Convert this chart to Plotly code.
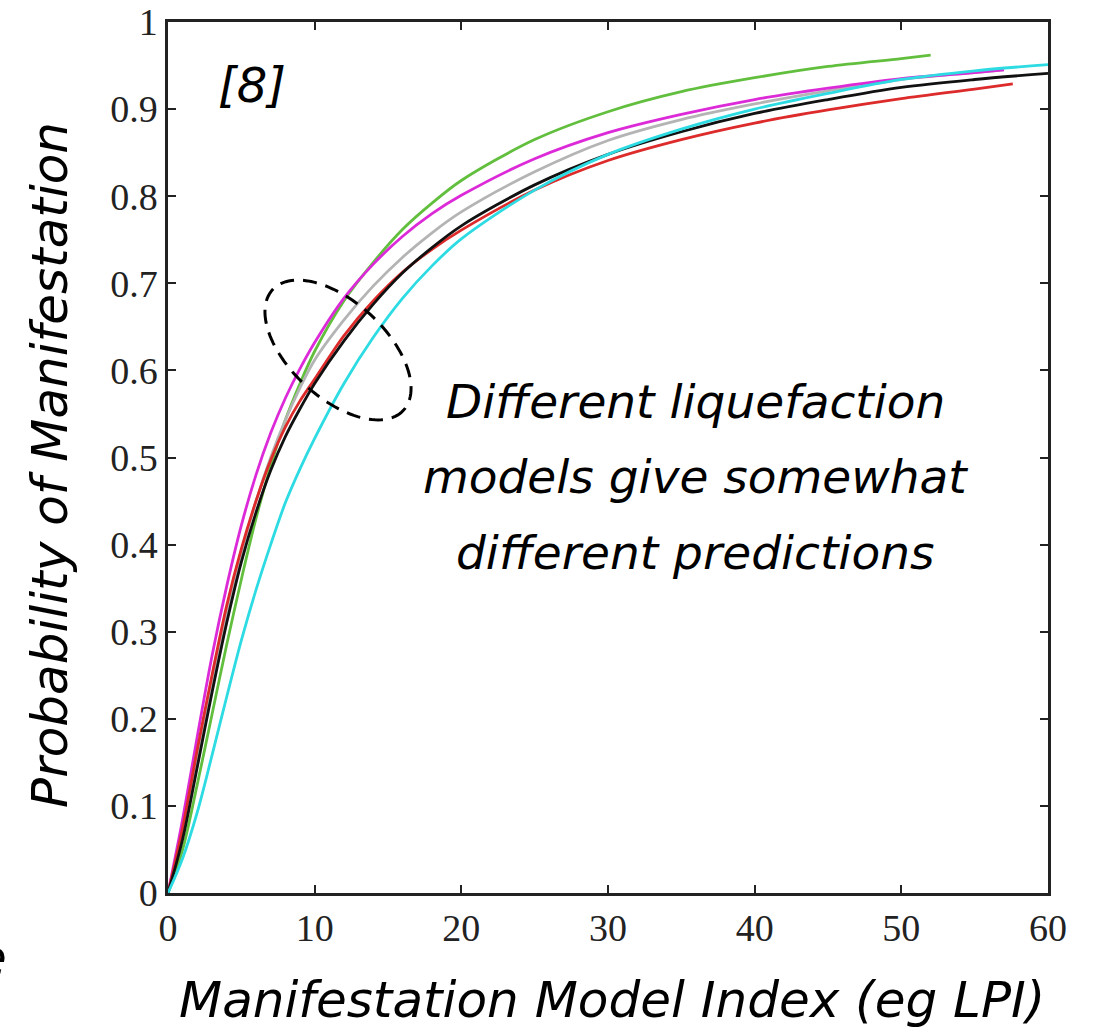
import math
import plotly.graph_objects as go

# Probability of manifestation curves for several liquefaction manifestation models
x_magenta = [0, 1, 2, 3, 4, 5, 6, 7, 8, 9, 10, 12, 14, 16, 18, 20, 25, 30, 35, 40, 45, 50, 55, 57]
y_magenta = [0, 0.085, 0.18, 0.272, 0.352, 0.422, 0.48, 0.528, 0.568, 0.602, 0.632, 0.683, 0.722,
             0.754, 0.780, 0.801, 0.843, 0.873, 0.894, 0.911, 0.924, 0.935, 0.942, 0.945]

x_grey = [0, 1, 2, 3, 4, 5, 6, 7, 8, 9, 10, 12, 14, 16, 18, 20, 25, 30, 35, 40, 45, 50, 55, 57]
y_grey = [0, 0.07, 0.155, 0.24, 0.32, 0.39, 0.45, 0.50, 0.543, 0.58, 0.612, 0.658, 0.697, 0.73,
          0.758, 0.782, 0.828, 0.864, 0.888, 0.906, 0.921, 0.934, 0.942, 0.945]

x_red = [0, 1, 2, 3, 4, 5, 6, 7, 8, 9, 10, 12, 14, 16, 18, 20, 25, 30, 35, 40, 45, 50, 55, 57.6]
y_red = [0, 0.075, 0.165, 0.25, 0.33, 0.395, 0.45, 0.497, 0.535, 0.565, 0.59, 0.64, 0.68, 0.713,
         0.739, 0.761, 0.807, 0.841, 0.865, 0.884, 0.899, 0.912, 0.923, 0.929]

x_black = [0, 1, 2, 3, 4, 5, 6, 7, 8, 9, 10, 12, 14, 16, 18, 20, 25, 30, 35, 40, 45, 50, 55, 60]
y_black = [0, 0.062, 0.145, 0.23, 0.31, 0.38, 0.437, 0.485, 0.524, 0.556, 0.585, 0.634, 0.676,
           0.712, 0.741, 0.766, 0.813, 0.848, 0.874, 0.895, 0.911, 0.925, 0.934, 0.941]

x_green = [0, 1, 2, 3, 4, 5, 6, 7, 8, 9, 10, 12, 14, 16, 18, 20, 25, 30, 35, 40, 45, 50, 52]
y_green = [0, 0.05, 0.125, 0.205, 0.285, 0.36, 0.43, 0.49, 0.543, 0.585, 0.622, 0.68, 0.724,
           0.762, 0.792, 0.818, 0.865, 0.897, 0.92, 0.936, 0.949, 0.958, 0.962]

x_cyan = [0, 1, 2, 3, 4, 5, 6, 7, 8, 9, 10, 12, 14, 16, 18, 20, 25, 30, 35, 40, 45, 50, 55, 60]
y_cyan = [0, 0.04, 0.093, 0.158, 0.225, 0.29, 0.348, 0.40, 0.448, 0.487, 0.522, 0.585, 0.638,
          0.683, 0.72, 0.751, 0.807, 0.848, 0.877, 0.9, 0.918, 0.934, 0.944, 0.951]

x_ticks = [0, 10, 20, 30, 40, 50, 60]
y_ticks = [0, 0.1, 0.2, 0.3, 0.4, 0.5, 0.6, 0.7, 0.8, 0.9, 1]
y_tick_text = ["0", "0.1", "0.2", "0.3", "0.4", "0.5", "0.6", "0.7", "0.8", "0.9", "1"]

note_lines = ["Different liquefaction", "models give somewhat", "different predictions"]

series = [
    (x_green, y_green, "#62bf3e"),
    (x_grey, y_grey, "#b4b4b4"),
    (x_magenta, y_magenta, "#dc2ad8"),
    (x_red, y_red, "#dd2a2a"),
    (x_black, y_black, "#111111"),
    (x_cyan, y_cyan, "#2ddbe3"),
]

W, H = 1100, 1036
ML, MR, MT, MB = 168, 52, 22, 143
PW, PH = W - ML - MR, H - MT - MB

fig = go.Figure()
for xs, ys, col in series:
    fig.add_trace(go.Scatter(x=xs, y=ys, mode="lines",
                             line=dict(color=col, width=2.8, shape="spline", smoothing=0.9),
                             showlegend=False, hoverinfo="skip"))

# dashed ellipse highlighting the spread between models (paper coordinates)
cx_px, cy_px, a_px, b_px, ang = 338, 350, 89, 48, math.radians(42.7)
pts = []
for i in range(121):
    t = 2 * math.pi * i / 120
    px = cx_px + a_px * math.cos(t) * math.cos(ang) - b_px * math.sin(t) * math.sin(ang)
    py = cy_px + a_px * math.cos(t) * math.sin(ang) + b_px * math.sin(t) * math.cos(ang)
    pts.append(((px - ML) / PW, (MT + PH - py) / PH))
path = "M " + " L ".join(f"{u:.5f},{v:.5f}" for u, v in pts) + " Z"
fig.add_shape(type="path", path=path, xref="paper", yref="paper",
              line=dict(color="black", width=3, dash="14px,9px"))

title_font = dict(family="DejaVu Sans", size=50, color="black", style="italic")
note_font = dict(family="DejaVu Sans", size=47, color="black", style="italic")

ann = []
for i, line in enumerate(note_lines):
    ann.append(dict(text=line, x=(695 - ML) / PW, y=(MT + PH - (402 + 75 * i)) / PH,
                    xref="paper", yref="paper", xanchor="center", yanchor="middle",
                    showarrow=False, font=note_font))
ann.append(dict(text="[8]", x=(252 - ML) / PW, y=(MT + PH - 85) / PH,
                xref="paper", yref="paper", xanchor="center", yanchor="middle",
                showarrow=False, font=dict(family="DejaVu Sans", size=48, color="black", style="italic")))
ann.append(dict(text="Manifestation Model Index (eg LPI)", x=(612 - ML) / PW, y=(MT + PH - 1000) / PH,
                xref="paper", yref="paper", xanchor="center", yanchor="middle",
                showarrow=False, font=title_font))
ann.append(dict(text="Probability of Manifestation", x=(50 - ML) / PW, y=(MT + PH - 465) / PH,
                xref="paper", yref="paper", xanchor="center", yanchor="middle", textangle=-90,
                showarrow=False, font=title_font))
ann.append(dict(text="e", x=(9 - ML) / PW, y=(MT + PH - 958) / PH,
                xref="paper", yref="paper", xanchor="right", yanchor="middle",
                showarrow=False, font=title_font))

axis_common = dict(showline=True, linecolor="#222", linewidth=2.5, mirror="ticks",
                   ticks="inside", ticklen=8, tickwidth=2, tickcolor="#222",
                   showgrid=False, zeroline=False,
                   tickfont=dict(family="Liberation Serif", size=38, color="#222"))

fig.update_layout(
    width=W, height=H,
    margin=dict(l=ML, r=MR, t=MT, b=MB, autoexpand=False),
    paper_bgcolor="white", plot_bgcolor="white",
    xaxis=dict(range=[0, 60], tickvals=x_ticks, ticktext=[str(v) for v in x_ticks], **axis_common),
    yaxis=dict(range=[0, 1], tickvals=y_ticks, ticktext=y_tick_text, **axis_common),
    annotations=ann,
)

fig.write_html("out.html")
